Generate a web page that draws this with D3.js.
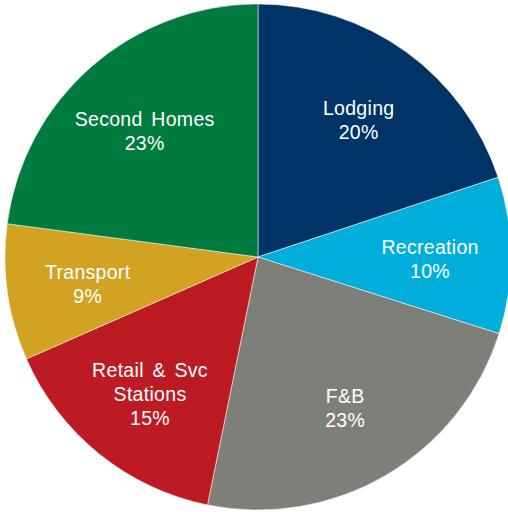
<!DOCTYPE html>
<html>
<head>
<meta charset="utf-8">
<script src="https://cdn.jsdelivr.net/npm/d3@7"></script>
<style>
  html, body { margin: 0; padding: 0; background: #fff; }
  #chart-holder { width: 508px; height: 512px; overflow: hidden; }
</style>
</head>
<body>
<div id="chart-holder"></div>
<script>
// slice names (multi-line labels split by "|"), shares in percent, colours
var categories = ["Lodging", "Recreation", "F&B", "Retail & Svc|Stations", "Transport", "Second Homes"];
var shares = [19.9, 10.0, 23.3, 15.2, 8.7, 22.9];
var pctLabels = ["20%", "10%", "23%", "15%", "9%", "23%"];
var colors = ["#003466", "#00AEDB", "#7F7F7A", "#BD1B24", "#D2A222", "#007B3F"];

var width = 508, height = 512;
var cx = 258, cy = 257, radius = 253;

var svg = d3.select("#chart-holder")
  .append("svg")
  .attr("width", width)
  .attr("height", height);

var data = categories.map(function(c, i) {
  return { name: c, value: shares[i], label: pctLabels[i], color: colors[i] };
});

var pie = d3.pie()
  .sort(null)
  .value(function(d) { return d.value; });

var arc = d3.arc()
  .innerRadius(0)
  .outerRadius(radius);

// labels sit around 68% of the way out
var labelArc = d3.arc()
  .innerRadius(radius * 0.68)
  .outerRadius(radius * 0.68);

var g = svg.append("g")
  .attr("transform", "translate(" + cx + "," + cy + ")");

var arcs = pie(data);

g.selectAll(".slice")
  .data(arcs)
  .enter()
  .append("path")
  .attr("class", "slice")
  .attr("d", arc)
  .attr("fill", function(d) { return d.data.color; })
  .attr("stroke", "#ffffff")
  .attr("stroke-width", 0.5);

var lineH = 24;

var labels = g.selectAll(".label")
  .data(arcs)
  .enter()
  .append("text")
  .attr("class", "label")
  .attr("transform", function(d) {
    var c = labelArc.centroid(d);
    return "translate(" + c[0] + "," + c[1] + ")";
  })
  .attr("text-anchor", "middle")
  .attr("fill", "#ffffff")
  .style("font-family", "'Liberation Sans', Arial, sans-serif")
  .style("font-size", "19.5px")
  .style("letter-spacing", "0.3px")
  .style("word-spacing", "3px");

labels.each(function(d) {
  var lines = d.data.name.split("|").concat([d.data.label]);
  var t = d3.select(this);
  var top = -(lines.length - 1) * lineH / 2 + 10;
  lines.forEach(function(l, i) {
    t.append("tspan")
      .attr("x", 0)
      .attr("y", top + i * lineH)
      .text(l);
  });
});
</script>
</body>
</html>
